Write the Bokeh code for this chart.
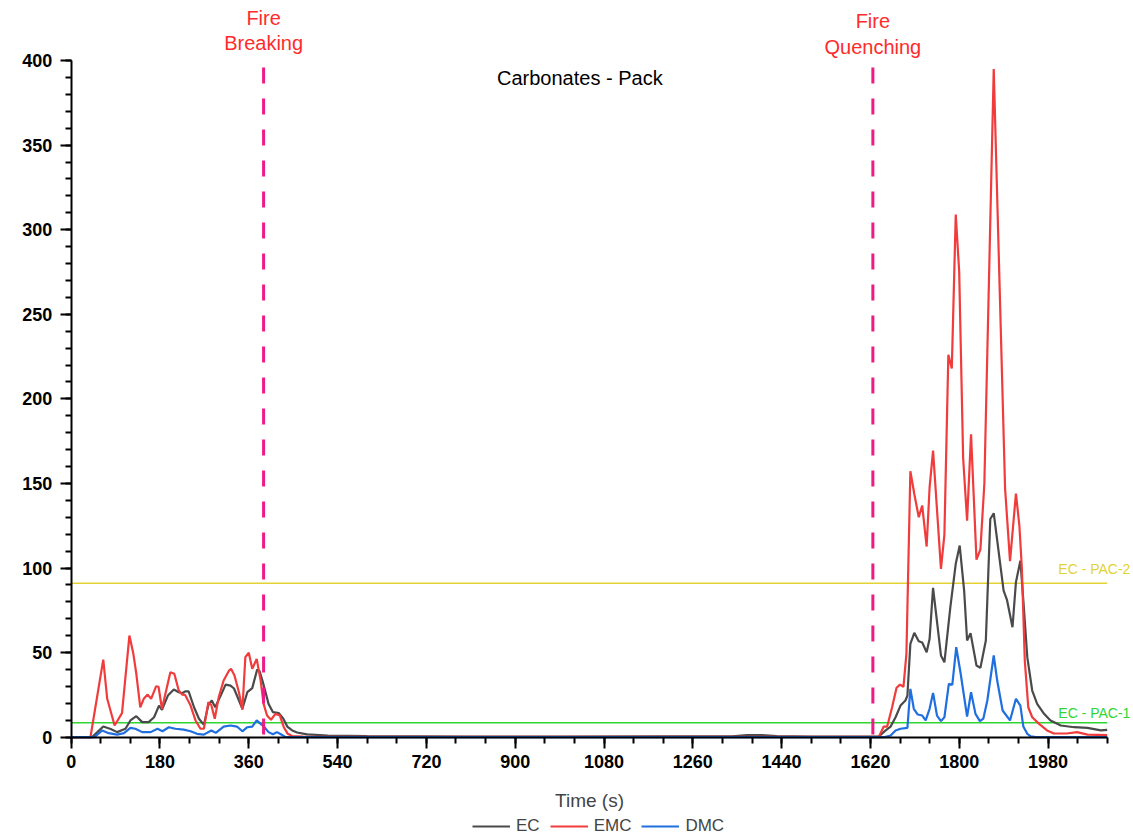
from bokeh.plotting import figure
from bokeh.models import Range1d, FixedTicker, Label, Legend, LegendItem, ColumnDataSource
from bokeh.embed import file_html
from bokeh.resources import INLINE

# ---------------- data ----------------
ec_t = [0, 42, 53, 65, 80, 93, 110, 120, 132, 144, 157, 168, 178, 184, 196, 208, 218, 225, 231, 238,
        249, 259, 269, 278, 285, 292, 303, 313, 323, 330, 347, 357, 367, 377, 382, 388, 394, 400, 409, 421,
        430, 438, 448, 458, 478, 520, 600, 800, 1000, 1200, 1340, 1370, 1400, 1430, 1500, 1600, 1637, 1651, 1661, 1671,
        1681, 1691, 1695, 1701, 1709, 1718, 1725, 1734, 1740, 1747, 1763, 1770, 1782, 1793, 1801, 1810, 1816, 1823, 1835, 1843,
        1854, 1863, 1870, 1890, 1897, 1908, 1915, 1924, 1931, 1938, 1948, 1958, 1972, 1985, 2006, 2033, 2060, 2087, 2100]
ec_v = [0, 0, 3, 6.3, 4.8, 3, 5, 9.9, 12.4, 8.9, 8.9, 11.8, 18.7, 16.2, 24.6, 28.2, 26.6, 26, 27.1, 27.1,
        17.7, 10.9, 7.3, 19, 21.7, 17.7, 24.6, 31.1, 30.5, 28.8, 16.8, 26.6, 29, 40, 39, 33, 26.6, 19.7, 14.8, 14.2,
        10.9, 6.3, 4, 2.8, 1.7, 1.0, 0.6, 0.4, 0.4, 0.5, 0.5, 1.2, 1.3, 0.6, 0.4, 0.3, 0.5, 4, 6.3, 11.8,
        18.7, 21.7, 24.6, 55.2, 61.7, 56.7, 56, 50.2, 58.2, 88.3, 48.3, 44.3, 76.8, 102.5, 113.3, 86.7, 57.2, 61.5, 42.4, 41,
        57.2, 129, 132.4, 86.7, 81, 65, 91.6, 104.4, 76.8, 47.3, 27.6, 19.7, 13.8, 9.9, 6.9, 5.9, 5.5, 4, 4.3]

emc_t = [0, 39, 65, 73, 88, 103, 118, 126, 132, 140, 147, 155, 162, 172, 177, 184, 201, 209, 218, 225,
         231, 242, 252, 262, 269, 278, 284, 291, 299, 309, 320, 324, 331, 340, 347, 353, 360, 367, 376, 384,
         390, 397, 405, 414, 423, 431, 439, 448, 470, 600, 1000, 1400, 1600, 1637, 1647, 1654, 1664, 1673, 1680, 1687,
         1693, 1701, 1709, 1718, 1725, 1734, 1740, 1747, 1763, 1770, 1778, 1785, 1793, 1800, 1808, 1816, 1824, 1835, 1843, 1851,
         1870, 1893, 1903, 1915, 1922, 1927, 1933, 1940, 1948, 1962, 1978, 1992, 2018, 2039, 2060, 2100]
emc_v = [0, 0, 45.9, 22.7, 6.9, 14.2, 60.1, 49.3, 37.5, 17.7, 22.7, 25.2, 22.7, 30.1, 29.8, 16.8, 38.4, 37.5, 27.6, 25.2,
         25, 18.7, 9.9, 5, 5, 20.7, 19, 10.9, 23.6, 33.5, 39.4, 40.4, 36.5, 26.6, 16.2, 47.3, 49.9, 40.4, 46.3, 33.5,
         19.7, 12.8, 10.3, 13.8, 12.8, 5.9, 2, 0.7, 0.3, 0.2, 0.2, 0.2, 0.2, 0.2, 6.3, 6.3, 17.7, 29.2, 31.1, 29.8,
         49.3, 157.2, 143.8, 130, 137, 112.7, 147.8, 169.4, 99.5, 119.8, 226, 218, 309, 275, 165, 128, 179, 105, 111, 150,
         395, 147, 104, 144, 125, 100, 45, 17.7, 11.8, 7.9, 4, 2.2, 2.2, 3, 1.5, 1.2]

dmc_t = [0, 47, 63, 76, 93, 107, 120, 130, 144, 161, 175, 185, 198, 211, 228, 242, 255, 269, 284, 293,
         309, 323, 336, 347, 357, 367, 376, 384, 390, 400, 409, 417, 425, 434, 445, 1647, 1661, 1671, 1681, 1695,
         1701, 1708, 1716, 1725, 1732, 1740, 1747, 1755, 1763, 1770, 1779, 1786, 1794, 1803, 1816, 1824, 1833, 1842, 1849, 1857,
         1870, 1877, 1888, 1903, 1915, 1924, 1930, 1938, 1945, 1955, 2100]
dmc_v = [0, 0, 4, 2.4, 1.5, 2.4, 5.5, 5, 3, 3, 5, 3.5, 5.9, 5, 4.5, 3.5, 2, 1.5, 4, 2.6,
         6.3, 6.9, 6.3, 3.5, 5.9, 6.3, 9.9, 7.9, 6.5, 3, 1.7, 3, 1.7, 0.2, 0, 0, 1, 4, 5, 5.5,
         28.6, 16.8, 13.4, 12.8, 9.9, 16.8, 26.2, 12.8, 9.5, 11.8, 31.5, 31, 53.2, 37.5, 12.2, 26.6, 13.8, 9.5, 11, 21.7,
         48.3, 33.5, 15.8, 9.9, 22.7, 18.7, 6.3, 2, 0.5, 0, 0]

series_names = ["EC", "EMC", "DMC"]
series_colors = ["#4a4a4a", "#f03c3c", "#1f6fe0"]

pac_levels = [8.5, 91]
pac_names = ["EC - PAC-1", "EC - PAC-2"]
pac_colors = ["#2fd62f", "#e3d234"]

event_times = [390, 1625]
event_line1 = ["Fire", "Fire"]
event_line2 = ["Breaking", "Quenching"]

x_ticks = list(range(0, 2000, 180))
y_ticks = list(range(0, 401, 50))
X_MAX = 2100
Y_MAX = 400

FONT = "Liberation Sans"

# ---------------- figure ----------------
# the frame covers the whole canvas; axes are pinned at 0 and bounded
p = figure(width=1133, height=836, output_backend="svg", toolbar_location=None,
           x_range=Range1d(-143.3, 2153.3), y_range=Range1d(-58.7, 435.5),
           min_border=0, min_border_left=0, min_border_right=0,
           min_border_top=0, min_border_bottom=0)
p.outline_line_color = None
p.xgrid.visible = False
p.ygrid.visible = False
p.background_fill_color = "white"
p.border_fill_color = "white"

for ax in (p.xaxis[0], p.yaxis[0]):
    ax.fixed_location = 0
    ax.axis_line_width = 2
    ax.axis_line_color = "black"
    ax.major_tick_line_width = 2
    ax.minor_tick_line_width = 2
    ax.major_tick_line_color = "black"
    ax.minor_tick_line_color = "black"
    ax.major_tick_in = 0
    ax.minor_tick_in = 0
    ax.major_tick_out = 11
    ax.minor_tick_out = 6
    ax.major_label_text_font = FONT
    ax.major_label_text_font_style = "bold"
    ax.major_label_text_font_size = "18px"
    ax.major_label_text_color = "black"

p.xaxis.bounds = (0, X_MAX)
p.yaxis.bounds = (0, Y_MAX)
p.xaxis.ticker = FixedTicker(ticks=x_ticks, minor_ticks=list(range(0, X_MAX + 1, 60)))
p.yaxis.ticker = FixedTicker(ticks=y_ticks, minor_ticks=list(range(0, Y_MAX + 1, 10)))
p.xaxis.major_label_standoff = 7
p.yaxis.major_label_standoff = 8
p.xaxis.axis_label = "Time (s)"
p.xaxis.axis_label_text_font = FONT
p.xaxis.axis_label_text_font_style = "normal"
p.xaxis.axis_label_text_font_size = "19px"
p.xaxis.axis_label_standoff = 18

# PAC reference lines
p.segment(x0=[0] * len(pac_levels), x1=[X_MAX] * len(pac_levels), y0=pac_levels, y1=pac_levels,
          line_color=pac_colors, line_width=1.4)

# data lines
renderers = []
for t, v, col in zip([ec_t, emc_t, dmc_t], [ec_v, emc_v, dmc_v], series_colors):
    src = ColumnDataSource(dict(x=t, y=v))
    r = p.line("x", "y", source=src, line_color=col, line_width=2.2)
    renderers.append(r)

# event dashed lines + labels
p.segment(x0=event_times, x1=event_times, y0=[Y_MAX] * len(event_times), y1=[0] * len(event_times),
          line_color="#ee1a85", line_width=3, line_dash="16 15", line_dash_offset=-7)
for et, l1, l2, dy in zip(event_times, event_line1, event_line2, [4.3, 2.2]):
    p.add_layout(Label(x=et, y=420.9 + dy, text=l1, text_align="center", text_baseline="alphabetic",
                       text_font=FONT, text_font_size="20px", text_color="#ff2b2b"))
    p.add_layout(Label(x=et, y=406.1 + dy, text=l2, text_align="center", text_baseline="alphabetic",
                       text_font=FONT, text_font_size="20px", text_color="#ff2b2b"))

# PAC labels
for lvl, name, col, dy in zip(pac_levels, pac_names, pac_colors, [5.9, 8.2]):
    p.add_layout(Label(x=2147, y=lvl + dy, text=name, text_align="right",
                       text_baseline="alphabetic", text_font=FONT, text_font_size="14px",
                       text_color=col))

# title inside plot
p.add_layout(Label(x=1031, y=389.9, text="Carbonates - Pack", text_align="center",
                   text_baseline="alphabetic", text_font=FONT, text_font_size="20px",
                   text_color="black"))

legend = Legend(items=[LegendItem(label=n, renderers=[r]) for n, r in zip(series_names, renderers)],
                orientation="horizontal", location=(472, 0),
                border_line_color=None, background_fill_alpha=0,
                label_text_font=FONT, label_text_font_size="17px",
                glyph_width=38, glyph_height=18, spacing=10, label_standoff=6,
                padding=0, margin=0)
p.add_layout(legend, "center")

open("out.html", "w").write(file_html(p, INLINE))
